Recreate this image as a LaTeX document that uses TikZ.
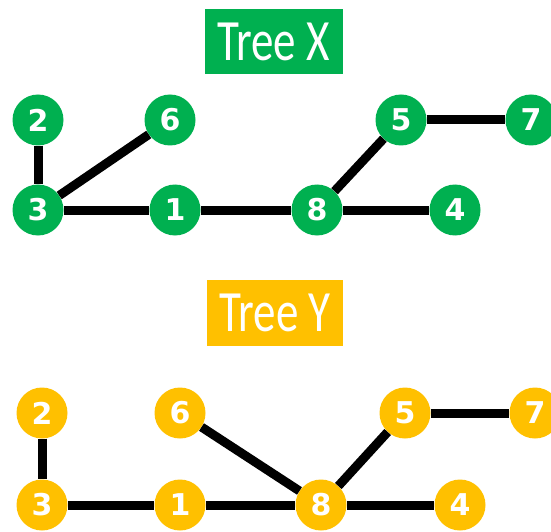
\documentclass[tikz,border=0pt]{standalone}
\usepackage{fontspec}
\setmainfont{Carlito}
\newfontfamily\numfont{DejaVu Sans}
\usetikzlibrary{positioning}

\definecolor{treegreen}{RGB}{0,176,80}
\definecolor{treegold}{RGB}{255,192,0}

\tikzset{
  vertex/.style = {circle, fill=#1, text=white, minimum size=51pt, inner sep=0pt,
    font=\numfont\bfseries\fontsize{30}{30}\selectfont},
  treetitle/.style = {fill=#1, text=white, minimum width=138pt, minimum height=65pt,
    inner sep=0pt, font=\fontsize{45}{45}\selectfont},
  branch/.style = {line width=9pt},
}

\begin{document}
\begin{tikzpicture}[x=1pt, y=1pt, node distance = 90pt and 138pt, on grid]
    \useasboundingbox (0,0) rectangle (551,531);

    % tree X
    \node[treetitle=treegreen] (tx) at (273.5,489.5) {\scalebox{1}[1.3]{Tree X}};

    \node[vertex=treegreen] (x3) at (38,321) {3};
    \node[vertex=treegreen, above=of x3] (x2) {2};
    \node[vertex=treegreen, right=137pt of x3] (x1) {1};
    \node[vertex=treegreen, right=142pt of x1] (x8) {8};
    \node[vertex=treegreen, right=of x8] (x4) {4};
    \node[vertex=treegreen, above left=90pt and 5pt of x1] (x6) {6};
    \node[vertex=treegreen, above right=90pt and 84pt of x8] (x5) {5};
    \node[vertex=treegreen, right=130pt of x5] (x7) {7};

    \foreach \a/\b in {x2/x3, x3/x6, x3/x1, x1/x8, x8/x5, x5/x7, x8/x4}
        \draw[branch] (\a) -- (\b);

    % tree Y
    \node[treetitle=treegold, minimum width=136pt, minimum height=66pt] (ty) at (275,218) {\scalebox{1}[1.3]{Tree Y}};

    \node[vertex=treegold] (y3) at (42,26) {3};
    \node[vertex=treegold, above=92pt of y3] (y2) {2};
    \node[vertex=treegold, right=of y3] (y1) {1};
    \node[vertex=treegold, right=141pt of y1] (y8) {8};
    \node[vertex=treegold, right=139pt of y8] (y4) {4};
    \node[vertex=treegold, above=92pt of y1] (y6) {6};
    \node[vertex=treegold, above right=92pt and 84pt of y8] (y5) {5};
    \node[vertex=treegold, right=130pt of y5] (y7) {7};

    \foreach \a/\b in {y2/y3, y3/y1, y1/y8, y6/y8, y8/y5, y5/y7, y8/y4}
        \draw[branch] (\a) -- (\b);
\end{tikzpicture}
\end{document}
